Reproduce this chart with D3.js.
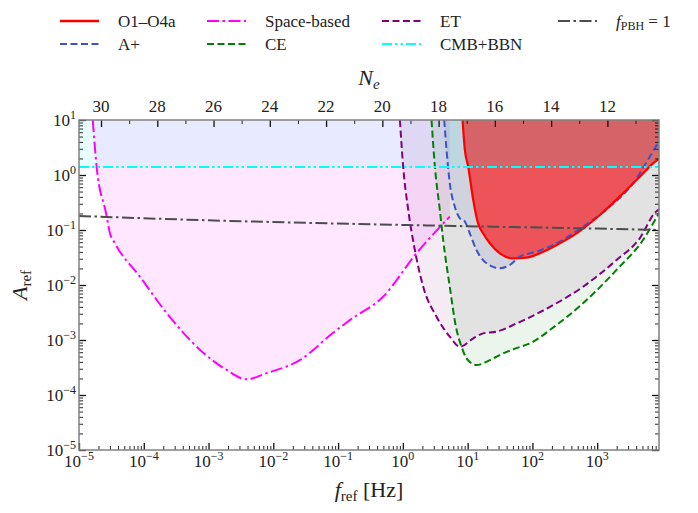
<!DOCTYPE html>
<html>
<head>
<meta charset="utf-8">
<script src="https://cdn.jsdelivr.net/npm/d3@7"></script>
<style>
  body { margin: 0; background: #fff; }
  svg text { font-family: "Liberation Serif", "DejaVu Serif", serif; fill: #222; }
</style>
</head>
<body>
<svg id="chart" width="698" height="513" font-family="Liberation Serif, DejaVu Serif, serif"></svg>
<script>
// ---- data (f in Hz, A_ref) ----
var spaceF = [1.63e-5, 1.87e-5, 2.61e-5, 3.0e-5, 3.6e-5, 8.7e-5, 2.25e-4, 7.4e-4, 1.9e-3, 3.9e-3, 7.9e-3, 0.0257, 0.083, 0.152, 0.49, 1.63, 5.3];
var spaceA = [10, 1.42, 0.204, 0.088, 0.057, 0.0142, 3.1e-3, 6.6e-4, 2.85e-4, 1.93e-4, 2.5e-4, 4.3e-4, 1.34e-3, 2.3e-3, 6.05e-3, 0.038, 0.175];

var etF = [0.9, 1.01, 1.21, 1.53, 2.06, 3.31, 5.3, 7.6, 12.2, 17.3, 27.9, 56.9, 186, 605, 1990, 4540, 7740, 9500];
var etA = [10, 1.42, 0.231, 0.0433, 9.3e-3, 2.65e-3, 1.15e-3, 7.55e-4, 1.07e-3, 1.32e-3, 1.42e-3, 2.0e-3, 4.0e-3, 9.3e-3, 0.0285, 0.0706, 0.204, 0.25];

var ceF = [2.77, 3.12, 3.72, 4.19, 5.3, 6.58, 8.05, 9.6, 13.7, 22, 35.3, 56.9, 103, 186, 605, 1990, 5100, 8710, 9500];
var ceA = [10, 1.42, 0.231, 0.0658, 9.3e-3, 1.75e-3, 7.55e-4, 4.65e-4, 3.5e-4, 4.3e-4, 5.7e-4, 7.1e-4, 9.3e-4, 1.52e-3, 4.65e-3, 0.0188, 0.0658, 0.187, 0.22];

var apF = [4.35, 4.72, 5.3, 6.34, 7.6, 9.06, 10.8, 13.7, 19.6, 31.4, 44.8, 64, 116, 236, 605, 1560, 3580, 6490, 8710, 9500];
var apA = [10, 2.85, 0.706, 0.265, 0.163, 0.142, 0.087, 0.0433, 0.0248, 0.0201, 0.0231, 0.0327, 0.0404, 0.0573, 0.115, 0.265, 0.706, 2.15, 3.77, 4.3];

var o4F = [8.34, 9.06, 10.2, 12.2, 14.5, 17.3, 22, 31.4, 50.4, 81, 130, 236, 480, 1100, 2510, 5100, 7290, 9250];
var o4A = [10, 2.85, 1.42, 0.351, 0.132, 0.087, 0.0573, 0.0377, 0.0305, 0.0314, 0.0377, 0.0533, 0.087, 0.1875, 0.465, 1.07, 1.63, 2.0];

var cmbF = [1e-5, 9e3];
var cmbA = [1.4, 1.4];

var pbhF = [1e-5, 1e-3, 1e-1, 10, 1e3, 9e3];
var pbhA = [0.18, 0.15, 0.131, 0.117, 0.106, 0.1];

// tick labels
var xMajor = [1e-5, 1e-4, 1e-3, 1e-2, 1e-1, 1, 10, 100, 1000];
var yMajor = [1e-5, 1e-4, 1e-3, 1e-2, 1e-1, 1, 10];
var neMajor = [12, 14, 16, 18, 20, 22, 24, 26, 28, 30];
var neMinor = [11, 13, 15, 17, 19, 21, 23, 25, 27, 29];
var neOffset = 19.27; // N_e = neOffset - ln(f)

var svg = d3.select('#chart');
var x = d3.scaleLog().domain([1e-5, 9e3]).range([79, 659]);
var y = d3.scaleLog().domain([1e-5, 10]).range([450, 120]);
var xNe = d3.scaleLinear()
    .domain([neOffset - Math.log(1e-5), neOffset - Math.log(9e3)])
    .range([79, 659]);

var pLeft = x.range()[0], pRight = x.range()[1], pTop = y.range()[1], pBottom = y.range()[0];

svg.append('clipPath').attr('id', 'clip')
    .append('rect').attr('x', pLeft).attr('y', pTop)
    .attr('width', pRight - pLeft).attr('height', pBottom - pTop);

function pts(fs, as) {
    return fs.map(function (f, i) { return [f, as[i]]; });
}
var lineGen = d3.line()
    .x(function (d) { return x(d[0]); })
    .y(function (d) { return y(d[1]); })
    .curve(d3.curveMonotoneX);
var areaGen = d3.area()
    .x(function (d) { return x(d[0]); })
    .y0(pTop - 5)
    .y1(function (d) { return y(d[1]); })
    .curve(d3.curveMonotoneX);

var series = [
    {f: spaceF, a: spaceA, color: '#ff00ff', fill: 0.09, dash: '12,3.5,2.5,3.5'},
    {f: etF, a: etA, color: '#800080', fill: 0.08, dash: '7,3.5'},
    {f: ceF, a: ceA, color: '#008000', fill: 0.08, dash: '7,3.5'},
    {f: apF, a: apA, color: '#3f51c9', fill: 0.1, dash: '7,3.5'},
    {f: o4F, a: o4A, color: '#ff0000', fill: 0.6, dash: null},
    {f: cmbF, a: cmbA, color: '#00ffff', fill: 0.09, dash: '10,3,2.5,3,2.5,3'},
    {f: pbhF, a: pbhA, color: '#4d4d4d', fill: 0, dash: '12,3.5,2.5,3.5'}
];

var plot = svg.append('g').attr('clip-path', 'url(#clip)');
series.forEach(function (s) {
    if (!s.fill) { return; }
    plot.append('path')
        .attr('d', areaGen(pts(s.f, s.a)))
        .attr('fill', s.color)
        .attr('fill-opacity', s.fill)
        .attr('stroke', 'none');
});
series.forEach(function (s) {
    plot.append('path')
        .attr('d', lineGen(pts(s.f, s.a)))
        .attr('fill', 'none')
        .attr('stroke', s.color)
        .attr('stroke-width', s.dash ? 2 : 2.2)
        .attr('stroke-dasharray', s.dash);
});

// ---- axes (ticks pointing inwards) ----
function minorOf(scale) {
    var out = [];
    var dom = scale.domain();
    for (var e = -6; e <= 4; e++) {
        for (var k = 2; k <= 9; k++) {
            var v = k * Math.pow(10, e);
            if (v > dom[0] && v < dom[1]) { out.push(v); }
        }
    }
    return out;
}
var axes = svg.append('g');
function tickAxis(axis, tx, ty, values, size, width) {
    var g = axes.append('g')
        .attr('transform', 'translate(' + tx + ',' + ty + ')')
        .call(axis.tickValues(values).tickSize(size).tickFormat(''));
    g.select('.domain').remove();
    g.selectAll('line').attr('stroke', '#111').attr('stroke-width', width);
    return g;
}
tickAxis(d3.axisRight(y), pLeft, 0, yMajor, 7, 1.3);
tickAxis(d3.axisRight(y), pLeft, 0, minorOf(y), 4, 0.9);
tickAxis(d3.axisLeft(y), pRight, 0, yMajor, 7, 1.3);
tickAxis(d3.axisLeft(y), pRight, 0, minorOf(y), 4, 0.9);
tickAxis(d3.axisTop(x), 0, pBottom, xMajor, 7, 1.3);
tickAxis(d3.axisTop(x), 0, pBottom, minorOf(x), 4, 0.9);
tickAxis(d3.axisBottom(xNe), 0, pTop, neMajor, 7, 1.3);
tickAxis(d3.axisBottom(xNe), 0, pTop, neMinor, 4, 0.9);

axes.append('rect')
    .attr('x', pLeft).attr('y', pTop)
    .attr('width', pRight - pLeft).attr('height', pBottom - pTop)
    .attr('fill', 'none').attr('stroke', '#808080').attr('stroke-width', 1.5);

function powLabel(t, v) {
    var e = Math.round(Math.log10(v));
    t.append('tspan').text('10');
    t.append('tspan').attr('dy', -7).attr('font-size', 12)
        .text(e < 0 ? '\u2212' + (-e) : String(e));
}
xMajor.forEach(function (v) {
    var t = svg.append('text').attr('x', x(v)).attr('y', pBottom + 17)
        .attr('text-anchor', 'middle').attr('font-size', 17);
    powLabel(t, v);
});
yMajor.forEach(function (v) {
    var t = svg.append('text').attr('x', pLeft - 3).attr('y', y(v) + 6)
        .attr('text-anchor', 'end').attr('font-size', 17);
    powLabel(t, v);
});
neMajor.forEach(function (v) {
    svg.append('text').attr('x', xNe(v)).attr('y', pTop - 8)
        .attr('text-anchor', 'middle').attr('font-size', 17).text(v);
});

// axis titles
var xt = svg.append('text').attr('x', (pLeft + pRight) / 2).attr('y', 497)
    .attr('text-anchor', 'middle').attr('font-size', 22);
xt.append('tspan').attr('font-style', 'italic').text('f');
xt.append('tspan').attr('font-size', 15).attr('dy', 4).text('ref');
xt.append('tspan').attr('dy', -4).text(' [Hz]');

var yt = svg.append('text')
    .attr('transform', 'translate(27,' + ((pTop + pBottom) / 2) + ') rotate(-90)')
    .attr('text-anchor', 'middle').attr('font-size', 22);
yt.append('tspan').attr('font-style', 'italic').text('A');
yt.append('tspan').attr('font-size', 15).attr('dy', 4).text('ref');

var nt = svg.append('text').attr('x', (pLeft + pRight) / 2).attr('y', 85)
    .attr('text-anchor', 'middle').attr('font-size', 22);
nt.append('tspan').attr('font-style', 'italic').text('N');
nt.append('tspan').attr('font-style', 'italic').attr('font-size', 15).attr('dy', 4).text('e');

// ---- legend ----
var legendItems = [
    {label: 'O1\u2013O4a', s: series[4], col: 0, row: 0},
    {label: 'A+', s: series[3], col: 0, row: 1},
    {label: 'Space-based', s: series[0], col: 1, row: 0},
    {label: 'CE', s: series[2], col: 1, row: 1},
    {label: 'ET', s: series[1], col: 2, row: 0},
    {label: 'CMB+BBN', s: series[5], col: 2, row: 1},
    {label: 'fPBH', s: series[6], col: 3, row: 0}
];
var colX = [60, 207, 382, 558];
var rowY = [21, 44];
legendItems.forEach(function (d) {
    var lx = colX[d.col], ly = rowY[d.row];
    svg.append('line')
        .attr('x1', lx).attr('x2', lx + 39).attr('y1', ly).attr('y2', ly)
        .attr('stroke', d.s.color).attr('stroke-width', d.s.dash ? 2.2 : 2.5)
        .attr('stroke-dasharray', d.s.dash);
    var t = svg.append('text').attr('x', lx + 58).attr('y', ly + 6).attr('font-size', 17);
    if (d.label === 'fPBH') {
        t.append('tspan').attr('font-style', 'italic').text('f');
        t.append('tspan').attr('font-size', 12).attr('dy', 3).text('PBH');
        t.append('tspan').attr('dy', -3).text(' = 1');
    } else {
        t.text(d.label);
    }
});
</script>
</body>
</html>
